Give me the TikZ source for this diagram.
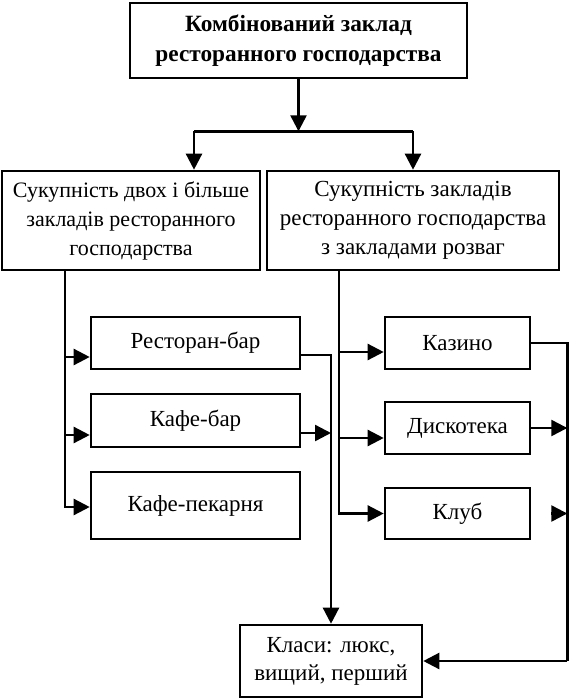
\documentclass[tikz,border=0pt]{standalone}
\usepackage{fontspec}
\setmainfont{Liberation Serif}
\usetikzlibrary{arrows.meta,calc}
\begin{document}
\begin{tikzpicture}[x=1pt,y=-1pt,
  box/.style={draw,line width=2.6pt,rectangle,inner sep=0pt,align=center,font=\fontsize{23}{29}\selectfont},
  line/.style={line width=2.4pt},
  arr/.style={line width=2.4pt,-{Triangle[length=16pt,width=16pt]}}]
\useasboundingbox (0,0) rectangle (569,699);
\node[box,minimum width=337pt,minimum height=75pt,font=\bfseries\fontsize{23.3}{30}\selectfont] (top) at (298.5,40.5) {Комбінований заклад\\ресторанного господарства};
\node[box,minimum width=258pt,minimum height=99pt,font=\fontsize{22}{29}\selectfont] (L) at (131,220.5) {Сукупність двох і більше\\закладів ресторанного\\господарства};
\node[box,minimum width=292pt,minimum height=99pt] (R) at (413,220.5) {Сукупність закладів\\ресторанного господарства\\з закладами розваг};
\node[box,minimum width=209pt,minimum height=52pt] (rb) at (195.5,343) {Ресторан-бар};
\node[box,minimum width=209pt,minimum height=53pt] (kb) at (195.5,420.5) {Кафе-бар};
\node[box,minimum width=209pt,minimum height=67pt] (kp) at (195.5,505.5) {Кафе-пекарня};
\node[box,minimum width=145pt,minimum height=52pt] (kaz) at (457.5,343) {Казино};
\node[box,minimum width=145pt,minimum height=52pt] (dis) at (457.5,428) {Дискотека};
\node[box,minimum width=145pt,minimum height=51pt] (klub) at (457.5,513.5) {Клуб};
\node[box,minimum width=182pt,minimum height=72pt,font=\fontsize{23}{28}\selectfont] (kl) at (331,661) {Класи: люкс,\\вищий, перший};
% top split
\coordinate (split) at ($(top.south)+(0,52)$);
\coordinate (lin) at ($(L.north)+(63,0)$);
\draw[arr] (top.south) -- (split);
\draw[line] (split -| lin) -- (split -| R.north);
\draw[arr] (split -| lin) -- (lin);
\draw[arr] (split -| R.north) -- (R.north);
% left spine
\coordinate (ls) at ($(L.south west)+(64,0)$);
\coordinate (rbin) at ($(rb.west)+(0,14)$);
\coordinate (kbin) at ($(kb.west)+(0,14.5)$);
\coordinate (kpin) at ($(kp.west)+(0,1.5)$);
\draw[arr] (ls) |- (kpin);
\draw[arr] (ls |- rbin) -- (rbin);
\draw[arr] (ls |- kbin) -- (kbin);
% right spine
\coordinate (rs) at ($(R.south west)+(73,0)$);
\coordinate (kazin) at ($(kaz.west)+(0,9)$);
\coordinate (disin) at ($(dis.west)+(0,10)$);
\draw[arr] (rs) |- (klub.west);
\draw[arr] (rs |- kazin) -- (kazin);
\draw[arr] (rs |- disin) -- (disin);
% left outputs
\coordinate (rbout) at ($(rb.east)+(0,12)$);
\coordinate (kbout) at ($(kb.east)+(0,12.5)$);
\draw[arr] (rbout) -| (kl.north);
\draw[arr] (kbout) -- (kbout -| kl.north);
% right outputs
\coordinate (rc) at ($(kl.east)+(144,0)$);
\draw[line] (kaz.east) -| (rc);
\draw[arr] (rc) -- (kl.east);
\draw[arr] (dis.east) -- (dis.east -| rc);
\draw[arr] ($(klub.east -| rc)+(-16,0)$) -- (klub.east -| rc);
\end{tikzpicture}
\end{document}
